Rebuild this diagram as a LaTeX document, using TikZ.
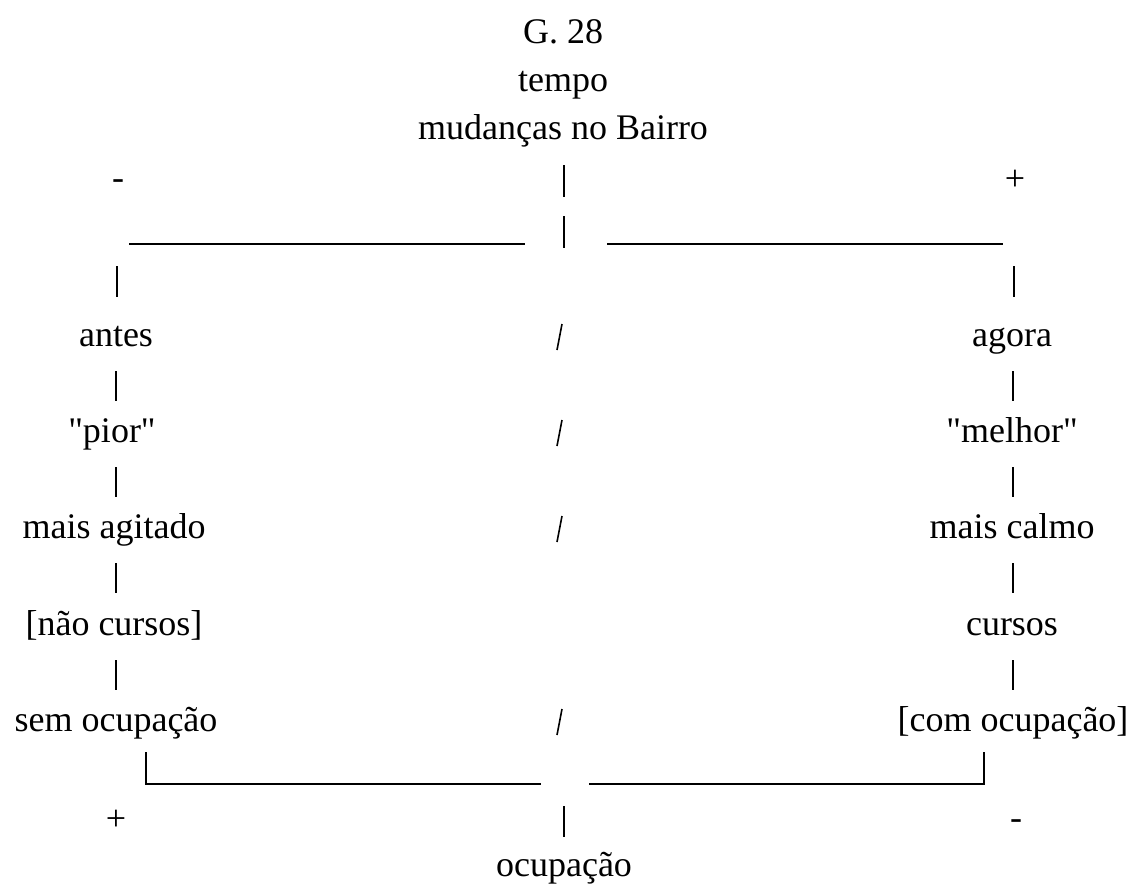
\documentclass[tikz,border=0pt]{standalone}
\usepackage{fontspec}
\setmainfont{Liberation Serif}
\begin{document}
\begin{tikzpicture}[x=1pt,y=-1pt,
  lbl/.style={inner sep=0pt,font=\fontsize{36}{40}\selectfont,anchor=base},
  sgn/.style={inner sep=0pt,font=\fontsize{36}{40}\selectfont},
  bar/.style={line width=2.3pt},
  rule/.style={line width=1.4pt},
  slashline/.style={line width=1.6pt}]
\useasboundingbox (0,0) rectangle (1131,894);
% title lines
\node[lbl] (title) at (563,43) {G. 28};
\node[lbl] (tempo) at (563,91) {tempo};
\node[lbl] (mud) at (563,139) {mudanças no Bairro};
% signs
\node[sgn] (mtop) at (118,185) {-};
\node[sgn] (ptop) at (1015,180) {+};
\node[sgn] (pbot) at (116,820) {+};
\node[sgn] (mbot) at (1016,825) {-};
% left column
\node[lbl] (antes) at (116,346) {antes};
\node[lbl] (pior) at (112,442) {\textquotedbl pior\textquotedbl};
\node[lbl] (agit) at (114,538) {mais agitado};
\node[lbl] (nao) at (114,635) {[não cursos]};
\node[lbl] (sem) at (116,731) {sem ocupação};
% right column
\node[lbl] (agora) at (1012,346) {agora};
\node[lbl] (melhor) at (1012,442) {\textquotedbl melhor\textquotedbl};
\node[lbl] (calmo) at (1012,538) {mais calmo};
\node[lbl] (cursos) at (1012,635) {cursos};
\node[lbl] (com) at (1013,731) {[com ocupação]};
% bottom
\node[lbl] (ocup) at (564,876) {ocupação};
% coordinates for bars
\foreach \n/\x/\y in {c1/564/165,c2/564/197,c3/564/216,c4/564/248,
  l1/117/266,l2/117/297,r1/1014/266,r2/1014/297,
  la1/116/371,la2/116/401,lb1/116/467,lb2/116/497,lc1/116/563,lc2/116/593,ld1/116/660,ld2/116/690,
  ra1/1013/371,ra2/1013/401,rb1/1013/467,rb2/1013/497,rc1/1013/563,rc2/1013/593,rd1/1013/660,rd2/1013/690,
  bc1/564/806,bc2/564/837,
  tl1/129/244,tl2/525/244,tr1/607/244,tr2/1003/244,
  bl0/146/752,bl1/146/784,bl2/541/784,br1/589/784,br2/984/784,br0/984/752,
  s1a/557/350,s1b/562/324,s2a/557/446,s2b/562/420,s3a/557/542,s3b/562/516,s4a/557/735,s4b/562/709}
  {\coordinate (\n) at (\x,\y);}
% central bars
\draw[bar] (c1) -- (c2);
\draw[bar] (c3) -- (c4);
\draw[bar] (bc1) -- (bc2);
% top horizontal lines
\draw[rule] (tl1) -- (tl2);
\draw[rule] (tr1) -- (tr2);
% column bars
\foreach \a/\b in {l1/l2,r1/r2,la1/la2,lb1/lb2,lc1/lc2,ld1/ld2,ra1/ra2,rb1/rb2,rc1/rc2,rd1/rd2}
  {\draw[bar] (\a) -- (\b);}
% bottom brackets
\draw[rule] (bl0) -- (bl1) -- (bl2);
\draw[rule] (br1) -- (br2) -- (br0);
% slashes
\foreach \a/\b in {s1a/s1b,s2a/s2b,s3a/s3b,s4a/s4b}
  {\draw[slashline] (\a) -- (\b);}
\end{tikzpicture}
\end{document}
